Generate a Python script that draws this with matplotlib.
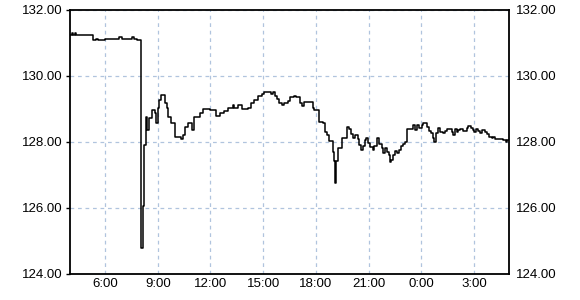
import matplotlib.pyplot as plt
from matplotlib.ticker import FixedLocator, FuncFormatter

plt.rcParams['font.family'] = ['Liberation Sans', 'DejaVu Sans']

# hours since midnight of day 1 (values > 24 are the next day)
hours = [4.00, 4.11, 4.17, 4.31, 4.37, 5.31, 5.48, 5.59, 5.99, 6.79, 6.96, 7.53, 7.64, 7.82,
         8.04, 8.17, 8.23, 8.35, 8.40, 8.48, 8.67, 8.82, 8.90, 9.01, 9.09, 9.18, 9.41, 9.51,
         9.60, 9.77, 9.98, 10.30, 10.42, 10.55, 10.74, 10.93, 11.05, 11.40, 11.56, 11.97,
         12.31, 12.54, 12.79, 13.01, 13.27, 13.36, 13.58, 13.78, 14.15, 14.29, 14.50, 14.72,
         14.92, 15.05, 15.45, 15.58, 15.67, 15.81, 15.92, 16.06, 16.19, 16.43, 16.53, 16.77,
         16.87, 17.10, 17.19, 17.34, 17.82, 17.91, 18.20, 18.42, 18.52, 18.65, 18.77, 18.96,
         19.05, 19.09, 19.13, 19.28, 19.47, 19.79, 19.87, 20.02, 20.13, 20.25, 20.38, 20.48,
         20.57, 20.67, 20.80, 20.86, 20.99, 21.08, 21.24, 21.33, 21.47, 21.61, 21.75, 21.81,
         21.94, 22.07, 22.18, 22.25, 22.30, 22.41, 22.51, 22.60, 22.75, 22.85, 22.95, 23.08,
         23.21, 23.55, 23.65, 23.78, 23.89, 24.03, 24.12, 24.31, 24.46, 24.56, 24.66, 24.73,
         24.84, 24.97, 25.07, 25.22, 25.36, 25.45, 25.74, 25.83, 25.92, 26.02, 26.11, 26.21,
         26.40, 26.59, 26.68, 26.82, 26.93, 27.01, 27.12, 27.25, 27.35, 27.45, 27.63, 27.73,
         27.88, 28.01, 28.11, 28.20, 28.68, 28.83, 28.90, 29.00]
prices = [131.23, 131.30, 131.23, 131.30, 131.23, 131.08, 131.12, 131.08, 131.11, 131.18,
          131.12, 131.17, 131.11, 131.08,
          124.78, 126.06, 127.91, 128.77, 128.36, 128.73, 128.97, 128.88, 128.57, 129.03,
          129.27, 129.42, 129.18, 129.04, 128.77, 128.57, 128.14, 128.08, 128.21, 128.46,
          128.57, 128.36, 128.77, 128.87, 129.00, 128.97, 128.79, 128.89, 128.95, 129.02,
          129.11, 129.02, 129.12, 128.99, 129.04, 129.17, 129.27, 129.39, 129.45, 129.51,
          129.45, 129.51, 129.39, 129.29, 129.17, 129.12, 129.17, 129.24, 129.35, 129.40,
          129.35, 129.17, 129.09, 129.20, 129.02, 128.97, 128.62, 128.58, 128.31, 128.21,
          128.04, 127.71, 127.43, 126.77, 127.43, 127.81, 128.13, 128.46, 128.38, 128.23,
          128.11, 128.21, 128.08, 127.91, 127.76, 127.88, 128.06, 128.11, 127.96, 127.86,
          127.76, 127.88, 128.13, 127.94, 127.81, 127.66, 127.81, 127.71, 127.61, 127.40,
          127.45, 127.61, 127.73, 127.68, 127.76, 127.88, 127.93, 128.01, 128.38, 128.52,
          128.36, 128.52, 128.42, 128.52, 128.57, 128.45, 128.34, 128.26, 128.11, 128.01,
          128.26, 128.42, 128.31, 128.26, 128.34, 128.38, 128.31, 128.21, 128.38, 128.31,
          128.36, 128.38, 128.34, 128.43, 128.48, 128.43, 128.36, 128.31, 128.38, 128.34,
          128.26, 128.36, 128.31, 128.23, 128.16, 128.11, 128.14, 128.08, 128.06, 128.01,
          128.06, 128.06]

x_ticks = [6, 9, 12, 15, 18, 21, 24, 27]
y_ticks = [124, 126, 128, 130, 132]

fig = plt.figure(figsize=(5.8, 3.0), dpi=100)
ax = fig.add_axes([70 / 580, 26 / 300, 439 / 580, 264 / 300])

ax.step(hours, prices, where='post', color='black', lw=1.1)

ax.set_xlim(4, 29)
ax.set_ylim(124, 132)
ax.xaxis.set_major_locator(FixedLocator(x_ticks))
ax.yaxis.set_major_locator(FixedLocator(y_ticks))
ax.xaxis.set_major_formatter(FuncFormatter(lambda v, p: f"{int(v) % 24}:00"))
ax.yaxis.set_major_formatter(FuncFormatter(lambda v, p: f"{v:.2f}"))

ax.grid(True, color='#b0c4de', linestyle=(0, (3, 3)), lw=0.9)
for s in ax.spines.values():
    s.set_linewidth(1.3)
    s.set_color('black')

ax.tick_params(axis='y', which='both', left=True, right=False, labelleft=True,
               labelright=True, length=3, width=1, pad=2, labelsize=9.5)
ax.tick_params(axis='x', length=0, pad=3, labelsize=9.5)

fig.savefig('out.png', dpi=100)
